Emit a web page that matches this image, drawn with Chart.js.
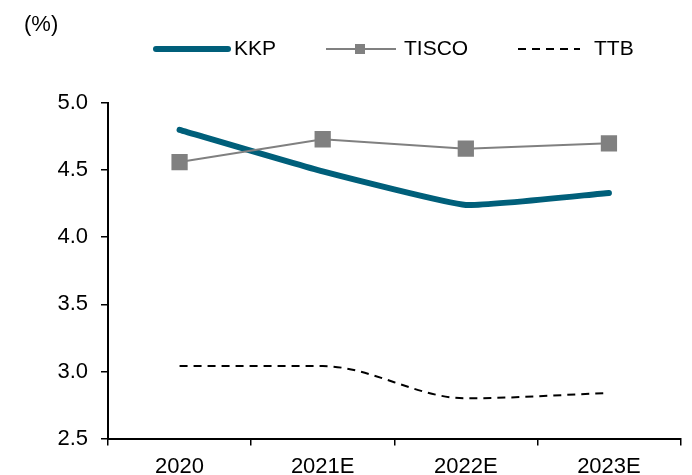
<!DOCTYPE html>
<html>
<head>
<meta charset="utf-8">
<script src="https://cdn.jsdelivr.net/npm/chart.js@4"></script>
<style>
  html, body { margin: 0; padding: 0; background: #fff; }
  body { width: 692px; height: 475px; position: relative; overflow: hidden;
         font-family: "Liberation Sans", Arial, sans-serif; color: #000; }
  #wrap { position: absolute; left: 0; top: 0; width: 692px; height: 488px; }
  .unit { position: absolute; left: 24px; top: 11px; font-size: 22px; }
  .legend { position: absolute; top: 36px; left: 0; font-size: 21px; }
  .legend span { position: absolute; white-space: nowrap; }
  .legend svg { position: absolute; }
</style>
</head>
<body>
<div id="wrap"><canvas id="chart" width="692" height="488"></canvas></div>
<div class="unit">(%)</div>
<div class="legend">
  <svg style="left:152px;top:5px" width="80" height="16">
    <line x1="4" y1="8" x2="76" y2="8" stroke="#005f7a" stroke-width="6" stroke-linecap="round"/>
  </svg>
  <span style="left:234px;top:0">KKP</span>
  <svg style="left:324px;top:5px" width="74" height="16">
    <line x1="2" y1="8" x2="72" y2="8" stroke="#808080" stroke-width="2"/>
    <rect x="31" y="3" width="10" height="10" fill="#808080"/>
  </svg>
  <span style="left:404px;top:0">TISCO</span>
  <svg style="left:516px;top:5px" width="66" height="16">
    <line x1="2" y1="8" x2="64" y2="8" stroke="#000" stroke-width="2" stroke-dasharray="8,6"/>
  </svg>
  <span style="left:594px;top:0">TTB</span>
</div>
<script>
const years = ['2020', '2021E', '2022E', '2023E'];
const kkp = [4.80, 4.49, 4.24, 4.33];
const tisco = [4.56, 4.73, 4.66, 4.70];
const ttb = [3.04, 3.04, 2.80, 2.84];

const ctx = document.getElementById('chart').getContext('2d');
new Chart(ctx, {
  type: 'line',
  data: {
    labels: years,
    datasets: [
      {
        label: 'TTB',
        data: ttb,
        borderColor: '#000',
        borderWidth: 2,
        borderDash: [8, 6],
        pointRadius: 0,
        cubicInterpolationMode: 'monotone'
      },
      {
        label: 'TISCO',
        data: tisco,
        borderColor: '#808080',
        backgroundColor: '#808080',
        borderWidth: 2,
        pointStyle: 'rect',
        pointRadius: 11.5,
        pointBorderWidth: 0,
        tension: 0
      },
      {
        label: 'KKP',
        data: kkp,
        borderColor: '#005f7a',
        borderWidth: 6,
        borderCapStyle: 'round',
        pointRadius: 0,
        tension: 0.12
      }
    ]
  },
  options: {
    responsive: false,
    animation: false,
    layout: { padding: { left: 0, right: 2, top: 103, bottom: 0 } },
    plugins: { legend: { display: false }, tooltip: { enabled: false } },
    scales: {
      x: {
        offset: true,
        grid: { offset: true, drawOnChartArea: false, drawTicks: true, tickLength: 7, color: '#000', lineWidth: 1.5 },
        border: { color: '#000', width: 2 },
        ticks: { color: '#000', font: { family: 'Liberation Sans', size: 22 }, padding: 8, maxRotation: 0 }
      },
      y: {
        min: 2.5,
        max: 5.0,
        afterFit: function(scale) { scale.width = 108; },
        grid: { drawOnChartArea: false, drawTicks: true, tickLength: 7, color: '#000', lineWidth: 1.5 },
        border: { color: '#000', width: 2 },
        ticks: {
          stepSize: 0.5,
          color: '#000',
          padding: 13,
          font: { family: 'Liberation Sans', size: 22 },
          callback: function(v) { return v.toFixed(1); }
        }
      }
    }
  }
});
</script>
</body>
</html>
